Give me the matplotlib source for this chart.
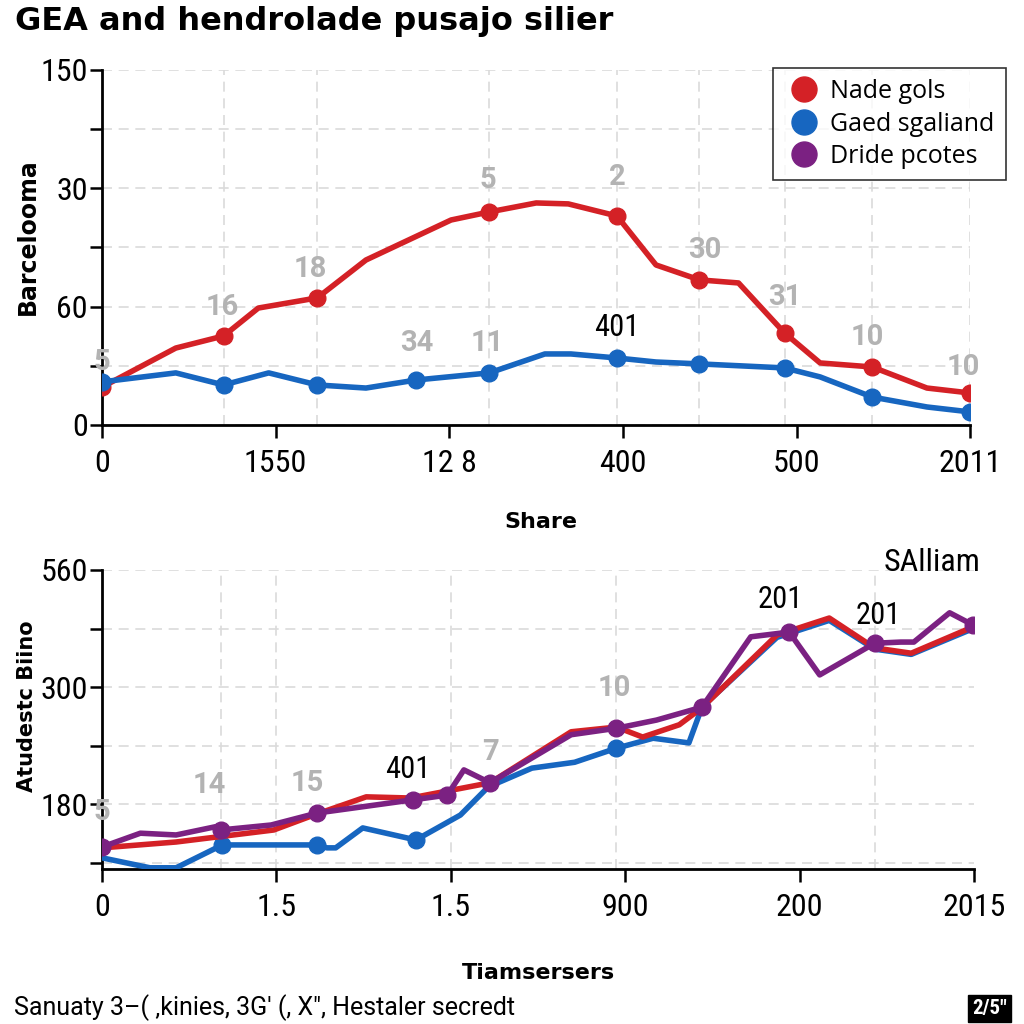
import matplotlib
matplotlib.use("Agg")
import matplotlib.pyplot as plt
from matplotlib import font_manager
from matplotlib.lines import Line2D

# pick a narrow font if one is there
available = {f.name for f in font_manager.fontManager.ttflist}
narrow_pref = ['Roboto Condensed', 'Archivo Narrow', 'Sofia Sans Condensed', 'Roboto']
NARROW_NAME = next(n for n in narrow_pref if n in available)
NARROW = [NARROW_NAME, 'DejaVu Sans']
ROBOTO = ['Roboto', 'DejaVu Sans']
WIDE = ['DejaVu Sans']
plt.rcParams['font.family'] = NARROW

RED = '#d42126'
BLUE = '#1766c0'
PURPLE = '#7b2182'
GRAY = '#b3b3b3'

# ---------------- top panel data ----------------
top_red_x = [0, 8.5, 14, 18, 24.8, 30.4, 40.2, 44.6, 50, 53.7, 59.3, 63.8, 68.8, 73.3, 78.6, 82.7, 88.7, 95, 100]
top_red_y = [16, 32.5, 37.6, 49.4, 53.7, 69.7, 86.6, 90, 93.8, 93.4, 88.3, 67.6, 61.3, 60, 38.9, 26.2, 24.5, 15.6, 13.5]
top_red_marks = [0, 2, 4, 7, 10, 12, 14, 16, 18]

top_blue_x = [0, 8.5, 14, 19.2, 24.8, 30.4, 36.2, 44.6, 51, 54, 59.3, 63.8, 68.8, 78.6, 82.7, 88.7, 95, 100]
top_blue_y = [18.2, 22, 16.9, 22, 16.9, 15.6, 19, 22, 30, 30, 28.3, 26.6, 25.8, 24.1, 20.3, 11.8, 7.6, 5.5]
top_blue_marks = [0, 2, 4, 6, 7, 10, 12, 13, 15, 17]

top_labels = ['5', '16', '18', '5', '2', '30', '31', '10', '10', '34', '11', '401']
top_label_x = [0, 13.8, 24, 44.4, 59.3, 69.4, 78.6, 88.1, 99.2, 36.2, 44.4, 59.3]
top_label_y = [26.6, 49.9, 65.9, 103.5, 104.8, 73.9, 54, 37.2, 24.5, 34.6, 34.6, 41]

top_xticks = [0, 20, 40, 60, 80, 100]
top_xticklabels = ['0', '1550', '12 8', '400', '500', '2011']
top_yticks = [0, 25, 50, 75, 100, 125, 150]
top_yticklabels = ['0', '', '60', '', '30', '', '150']
top_vlines = [14, 24.8, 44.6, 59.3, 68.8, 78.6, 88.7, 100]

# ---------------- bottom panel data ----------------
bot_red_x = [0, 8.5, 19.7, 24.3, 30.3, 35.4, 44.5, 53.8, 59, 62, 66.2, 68.8, 77.4, 83.4, 88.6, 92.8, 99.9]
bot_red_y = [36, 46, 66.5, 92, 123, 121, 147, 234, 242, 225, 246, 275, 399, 428, 377, 368, 413]

bot_blue_x = [0, 5.5, 8.5, 13.8, 24.7, 25.8, 26.8, 29.9, 36, 41.1, 44.3, 49.3, 54.2, 59, 63.2, 67.3, 68.8, 77.4, 83.4, 88.6, 92.8, 99.9]
bot_blue_y = [19, 2, 2, 41, 41, 36, 36, 70, 49.5, 92, 140, 172, 182, 206, 223, 215, 276, 395, 424, 375, 366, 410]
bot_blue_marks = [3, 4, 8, 13]

bot_purple_x = [0, 4.4, 8.5, 13, 13.6, 19.4, 24.7, 35.7, 39.6, 41.5, 44.5, 53.8, 59, 63.6, 68.8, 74.4, 78.8, 82.3, 88.6, 91.6, 93.1, 97.2, 99.9]
bot_purple_y = [37.5, 61, 58, 72, 66.5, 75, 95.5, 118, 126, 169, 147, 229, 240, 254, 276, 396, 404, 331, 385, 387, 387, 437, 416]
bot_purple_marks = [0, 4, 6, 7, 8, 10, 12, 14, 16, 18, 22]

bot_labels = ['5', '14', '15', '401', '7', '10', '201', '201']
bot_label_x = [0, 12.3, 23.5, 35.1, 44.5, 58.7, 77.8, 89]
bot_label_y = [97, 143, 147, 169, 200, 309, 459, 433]
bot_label_gray = [True, True, True, False, True, True, False, False]

bot_xticks = [0, 20, 40, 60, 80, 100]
bot_xticklabels = ['0', '1.5', '1.5', '900', '200', '2015']
bot_yticks = [10, 110, 210, 310, 410, 510]
bot_yticklabels = ['', '180', '', '300', '', '560']
bot_vlines = [13.6, 20, 40, 59, 88.6]

fig = plt.figure(figsize=(10.24, 10.24), dpi=100)


def style_axes(ax):
    for s in ['top', 'right']:
        ax.spines[s].set_visible(False)
    for s in ['left', 'bottom']:
        ax.spines[s].set_linewidth(2)
        ax.spines[s].set_color('black')
    ax.tick_params(axis='both', length=9, width=1.8, labelsize=23, pad=1)
    ax.tick_params(axis='x', pad=8)
    ax.grid(axis='y', color='#dadada', linestyle=(0, (6, 4)), linewidth=1.2)


def add_label(ax, t, x, y, gray):
    if gray:
        ax.text(x, y, t, ha='center', va='center', fontsize=21, color=GRAY, fontweight='bold',
                family=ROBOTO, zorder=6, clip_on=False)
    else:
        ax.text(x, y, t, ha='center', va='center', fontsize=22, color='black', zorder=6)


# ---------------- top panel ----------------
ax1 = fig.add_axes([0.0996, 0.585, 0.848, 0.3467])
for v in top_vlines:
    ax1.axvline(v, color='#dadada', linestyle=(0, (6, 4)), linewidth=1.2, zorder=0)
ax1.plot(top_red_x, top_red_y, color=RED, linewidth=4, marker='o', markersize=12,
         markevery=top_red_marks, solid_joinstyle='round', zorder=3)
ax1.plot(top_blue_x, top_blue_y, color=BLUE, linewidth=4, marker='o', markersize=12,
         markevery=top_blue_marks, solid_joinstyle='round', zorder=4)
ax1.set_xlim(0, 100)
ax1.set_ylim(0, 150)
ax1.set_xticks(top_xticks)
ax1.set_xticklabels(top_xticklabels)
ax1.set_yticks(top_yticks)
ax1.set_yticklabels(top_yticklabels)
style_axes(ax1)
for t, x, y in zip(top_labels, top_label_x, top_label_y):
    add_label(ax1, t, x, y, t != '401')
ax1.set_ylabel('Barcelooma', fontsize=17, fontweight='bold', family=WIDE)
ax1.yaxis.set_label_coords(-0.072, 0.53)
ax1.set_xlabel('Share', fontsize=16, fontweight='bold', family=WIDE)
ax1.xaxis.set_label_coords(0.505, -0.245)

handles = [Line2D([], [], linestyle='none', marker='o', markersize=18, color=c) for c in (RED, BLUE, PURPLE)]
leg = ax1.legend(handles, ['Nade gols', 'Gaed sgaliand', 'Dride pcotes'], loc='upper right',
                 bbox_to_anchor=(1.041, 1.006), borderaxespad=0, frameon=True, fancybox=False,
                 handletextpad=0.25, borderpad=0.45, labelspacing=0.3, handlelength=1.6,
                 prop={'family': ['Open Sans', 'DejaVu Sans'], 'size': 18})
leg.get_frame().set_edgecolor('black')
leg.get_frame().set_linewidth(1.2)

# ---------------- bottom panel ----------------
ax2 = fig.add_axes([0.0996, 0.1514, 0.8516, 0.292])
for v in bot_vlines:
    ax2.axvline(v, color='#dadada', linestyle=(0, (6, 4)), linewidth=1.2, zorder=0)
ax2.plot(bot_blue_x, bot_blue_y, color=BLUE, linewidth=4, marker='o', markersize=12,
         markevery=bot_blue_marks, solid_joinstyle='round', zorder=3)
ax2.plot(bot_red_x, bot_red_y, color=RED, linewidth=4, solid_joinstyle='round', zorder=4)
ax2.plot(bot_purple_x, bot_purple_y, color=PURPLE, linewidth=4, marker='o', markersize=12,
         markevery=bot_purple_marks, solid_joinstyle='round', zorder=5)
ax2.set_xlim(0, 100)
ax2.set_ylim(0, 510)
ax2.set_xticks(bot_xticks)
ax2.set_xticklabels(bot_xticklabels)
ax2.set_yticks(bot_yticks)
ax2.set_yticklabels(bot_yticklabels)
style_axes(ax2)
for t, x, y, g in zip(bot_labels, bot_label_x, bot_label_y, bot_label_gray):
    add_label(ax2, t, x, y, g)
ax2.text(1.007, 1.025, 'SAlliam', transform=ax2.transAxes, ha='right', va='center', fontsize=23)
ax2.set_ylabel('Atudestc Biino', fontsize=15, fontweight='bold', family=WIDE)
ax2.yaxis.set_label_coords(-0.075, 0.545)
ax2.set_xlabel('Tiamsersers', fontsize=16, fontweight='bold', family=WIDE)
ax2.xaxis.set_label_coords(0.5, -0.314)

# ---------------- title and footer ----------------
fig.text(0.015, 0.979, 'GEA and hendrolade pusajo silier', fontsize=23, fontweight='bold',
         family=WIDE, ha='left', va='center')
fig.text(0.014, 0.016, 'Sanuaty 3\u2013( \u201akinies, 3G\' (, X", Hestaler secredt', fontsize=18,
         family=ROBOTO, ha='left', va='center')
fig.text(0.966, 0.015, '2/5"', fontsize=15, fontweight='bold', color='white',
         ha='center', va='center', bbox=dict(boxstyle='square,pad=0.2', fc='black', ec='black'))

fig.savefig('out.png', dpi=100, facecolor='white')
